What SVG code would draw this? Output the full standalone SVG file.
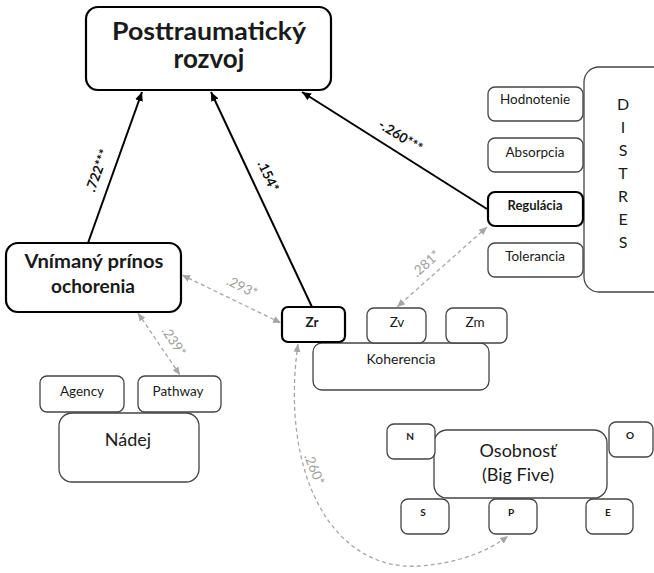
<svg xmlns="http://www.w3.org/2000/svg" width="654" height="573" viewBox="0 0 654 573">
<style>
  text { font-family: Lato, "Open Sans", "Liberation Sans", sans-serif; fill: #1a1a1a; text-anchor: middle; }
  .box { fill: #fff; stroke: #444; stroke-width: 1.3; }
  .bold { fill: #fff; stroke: #000; stroke-width: 2.2; }
  .sm { font-size: 13.5px; }
  .tiny { font-size: 10px; font-weight: bold; }
  .arr { stroke: #000; stroke-width: 2; fill: none; }
  .dash { stroke: #a6a6a6; stroke-width: 1.3; fill: none; stroke-dasharray: 4 3; }
  .lab { font-size: 13.5px; font-weight: bold; fill: #111; }
  .glab { font-size: 13.5px; fill: #a0a0a0; }
</style>
<defs>
  <marker id="ah" markerWidth="9" markerHeight="8" refX="9" refY="4" orient="auto" markerUnits="userSpaceOnUse">
    <path d="M0,0 L9,4 L0,8 z" fill="#000"/>
  </marker>
  <marker id="gh" markerWidth="8" markerHeight="7" refX="8" refY="3.5" orient="auto-start-reverse" markerUnits="userSpaceOnUse">
    <path d="M0,0 L8,3.5 L0,7 z" fill="#a6a6a6"/>
  </marker>
</defs>

<g id="node-ptr">
  <rect class="bold" x="86" y="7" width="245" height="83" rx="12"/>
  <text x="209" y="40" font-size="25" font-weight="bold" textLength="194" lengthAdjust="spacingAndGlyphs">Posttraumatický</text>
  <text x="209" y="68" font-size="26" font-weight="bold">rozvoj</text>
</g>

<g id="node-distres">
  <rect class="box" x="584" y="67" width="90" height="225" rx="15"/>
  <text x="623" y="110" font-size="16">D</text>
  <text x="623" y="133" font-size="16">I</text>
  <text x="623" y="156" font-size="16">S</text>
  <text x="623" y="179" font-size="16">T</text>
  <text x="623" y="202" font-size="16">R</text>
  <text x="623" y="225" font-size="16">E</text>
  <text x="623" y="248" font-size="16">S</text>
</g>
<g id="node-hodnotenie">
  <rect class="box" x="488" y="87" width="95" height="34" rx="7"/>
  <text class="sm" x="535" y="104">Hodnotenie</text>
</g>
<g id="node-absorpcia">
  <rect class="box" x="488" y="138" width="95" height="34" rx="7"/>
  <text class="sm" x="535" y="157">Absorpcia</text>
</g>
<g id="node-regulacia">
  <rect class="bold" x="488" y="192" width="95" height="34" rx="7"/>
  <text x="535" y="210" font-size="13" font-weight="bold">Regulácia</text>
</g>
<g id="node-tolerancia">
  <rect class="box" x="488" y="243" width="95" height="34" rx="7"/>
  <text class="sm" x="535" y="261">Tolerancia</text>
</g>

<g id="node-vnimany">
  <rect class="bold" x="6" y="243" width="175" height="69" rx="12"/>
  <text x="94" y="268" font-size="18" font-weight="bold" textLength="139" lengthAdjust="spacingAndGlyphs">Vnímaný prínos</text>
  <text x="93" y="293" font-size="19" font-weight="bold">ochorenia</text>
</g>

<g id="node-koherencia">
  <rect class="box" x="313" y="343" width="176" height="47" rx="9"/>
  <text x="401" y="364" font-size="14">Koherencia</text>
</g>
<g id="node-zr">
  <rect class="bold" x="282" y="307" width="63" height="35" rx="6"/>
  <text x="312" y="327" font-size="13.5" font-weight="bold">Zr</text>
</g>
<g id="node-zv">
  <rect class="box" x="367" y="308" width="59" height="35" rx="7"/>
  <text class="sm" x="397" y="327">Zv</text>
</g>
<g id="node-zm">
  <rect class="box" x="446" y="308" width="61" height="35" rx="7"/>
  <text class="sm" x="475" y="327">Zm</text>
</g>

<g id="node-nadej">
  <rect class="box" x="59" y="413" width="140" height="69" rx="13"/>
  <text x="128" y="446" font-size="18">Nádej</text>
</g>
<g id="node-agency">
  <rect class="box" x="40" y="376" width="84" height="36" rx="7"/>
  <text class="sm" x="82" y="396">Agency</text>
</g>
<g id="node-pathway">
  <rect class="box" x="138" y="376" width="83" height="36" rx="7"/>
  <text class="sm" x="178" y="396">Pathway</text>
</g>

<g id="node-osobnost">
  <rect class="box" x="434" y="430" width="173" height="68" rx="13"/>
  <text x="518" y="457" font-size="18">Osobnosť</text>
  <text x="518" y="481" font-size="18">(Big Five)</text>
</g>
<g id="node-n">
  <rect class="box" x="387" y="424" width="48" height="35" rx="7"/>
  <text class="tiny" x="410" y="440">N</text>
</g>
<g id="node-o">
  <rect class="box" x="609" y="422" width="44" height="35" rx="7"/>
  <text class="tiny" x="630" y="439">O</text>
</g>
<g id="node-s">
  <rect class="box" x="401" y="499" width="48" height="35" rx="7"/>
  <text class="tiny" x="423" y="516">S</text>
</g>
<g id="node-p">
  <rect class="box" x="489" y="499" width="48" height="35" rx="7"/>
  <text class="tiny" x="511" y="516">P</text>
</g>
<g id="node-e">
  <rect class="box" x="586" y="499" width="47" height="35" rx="7"/>
  <text class="tiny" x="608" y="516">E</text>
</g>

<g id="connectors">
  <line class="arr" x1="88" y1="243" x2="142" y2="92" marker-end="url(#ah)"/>
  <line class="arr" x1="312" y1="307" x2="211" y2="92" marker-end="url(#ah)"/>
  <line class="arr" x1="487" y1="209" x2="302" y2="92" marker-end="url(#ah)"/>
  <line class="dash" x1="182" y1="275" x2="281" y2="323" marker-start="url(#gh)" marker-end="url(#gh)"/>
  <line class="dash" x1="138" y1="313" x2="180" y2="375" marker-start="url(#gh)" marker-end="url(#gh)"/>
  <line class="dash" x1="487" y1="227" x2="397" y2="307" marker-start="url(#gh)" marker-end="url(#gh)"/>
  <path class="dash" d="M298,344 C280,470 330,572 420,566 C460,563 490,550 508,536" marker-start="url(#gh)" marker-end="url(#gh)"/>

  <text class="lab" transform="translate(102,172) rotate(-70)">.722***</text>
  <text class="lab" transform="translate(264,178) rotate(65)">.154*</text>
  <text class="lab" transform="translate(398,140) rotate(32)">-.260***</text>
  <text class="glab" transform="translate(240,291) rotate(26)">.293*</text>
  <text class="glab" transform="translate(170,344) rotate(56)">.239*</text>
  <text class="glab" transform="translate(429,267) rotate(-42)">.281*</text>
  <text class="glab" transform="translate(310,471) rotate(68)">.260*</text>
</g>
</svg>
